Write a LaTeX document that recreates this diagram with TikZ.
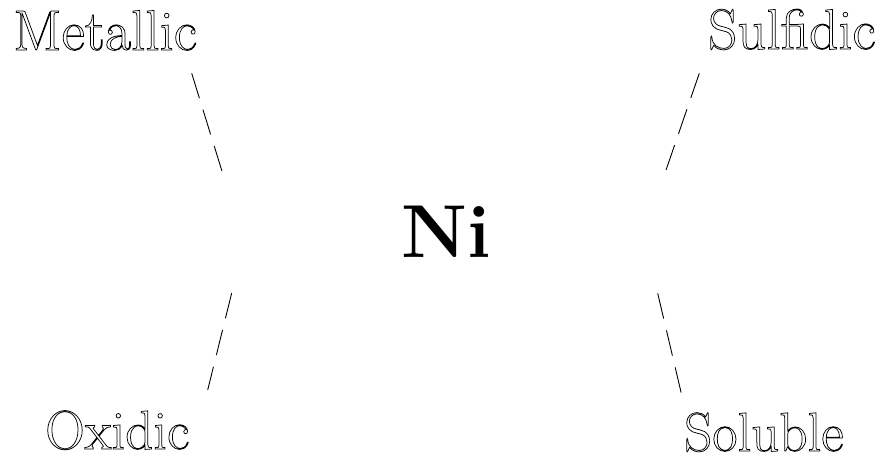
\documentclass[tikz,border=0pt]{standalone}
\newcommand{\outlined}[1]{\special{pdf:literal direct 1 Tr 0.75 w}#1\special{pdf:literal direct 0 Tr}}
\tikzset{
  kind/.style={inner sep=0pt,anchor=base west,font=\fontsize{57}{60}\selectfont},
  link/.style={dash pattern=on 26pt off 12pt,line width=0.9pt}
}
\begin{document}
\begin{tikzpicture}[x=1pt,y=-1pt]
  \useasboundingbox (0,0) rectangle (881,458);
  \node[inner sep=0pt,anchor=base west,font=\fontsize{75}{80}\selectfont\bfseries] (ni) at (401,257) {Ni};
  \node[kind] (metallic) at (13,50) {\outlined{Metallic}};
  \node[kind] (sulfidic) at (708,49) {\outlined{Sulfidic}};
  \node[kind,font=\fontsize{55}{60}\selectfont] (oxidic) at (45,449) {\outlined{Oxidic}};
  \node[kind,font=\fontsize{55}{60}\selectfont] (soluble) at (684,451) {\outlined{Soluble}};
  % link ends
  \coordinate (m1) at (191.7,73.3);  \coordinate (m2) at (223.7,176.7);
  \coordinate (s1) at (699.3,73.3);  \coordinate (s2) at (665.7,171);
  \coordinate (o1) at (231.7,293);   \coordinate (o2) at (207.7,390);
  \coordinate (u1) at (657.7,293.3); \coordinate (u2) at (681.7,395);
  \draw[link] (m1) -- (m2);
  \draw[link] (s1) -- (s2);
  \draw[link] (o1) -- (o2);
  \draw[link] (u1) -- (u2);
\end{tikzpicture}
\end{document}
